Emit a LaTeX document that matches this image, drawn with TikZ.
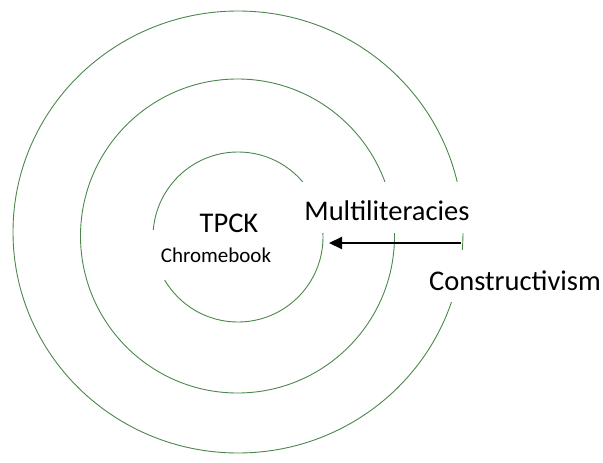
\documentclass[tikz,border=0pt]{standalone}
\usepackage{fontspec}
\setmainfont{Carlito}
\usetikzlibrary{arrows.meta}
\begin{document}
\begin{tikzpicture}[x=1pt,y=-1pt]
\tikzstyle{ring}=[draw={rgb,255:red,75;green,135;blue,75}, line width=0.9pt]
\tikzstyle{label}=[fill=white, inner sep=0pt, anchor=base]
\tikzstyle{big}=[font=\fontsize{28.5}{30}\selectfont]
\useasboundingbox (0,0) rectangle (603,463);
\coordinate (o) at (238,237);
% the three rings
\draw[ring] (238,232) ellipse (225 and 221);
\draw[ring] (237.5,236) circle (157);
\draw[ring] (o) circle (85);
% labels
\node[label, font=\fontsize{21}{23}\selectfont, minimum width=140pt, text height=32pt, text depth=18pt] (chrome) at (216,262) {Chromebook};
\node[label, big] (tpck) at (229,232) {TPCK};
\node[label, big, minimum width=207pt, text height=38.7pt, text depth=12.3pt] (multi) at (387,220.7) {Multiliteracies};
\node[label, big, minimum width=190pt, text height=40pt, text depth=12pt] (constr) at (515,290) {Constructivism};
\coordinate (tail) at (461,243);
\coordinate (head) at (329,243);
\draw[-{Triangle[length=13pt,width=12pt]}, line width=2pt] (tail) -- (head);
\end{tikzpicture}
\end{document}
